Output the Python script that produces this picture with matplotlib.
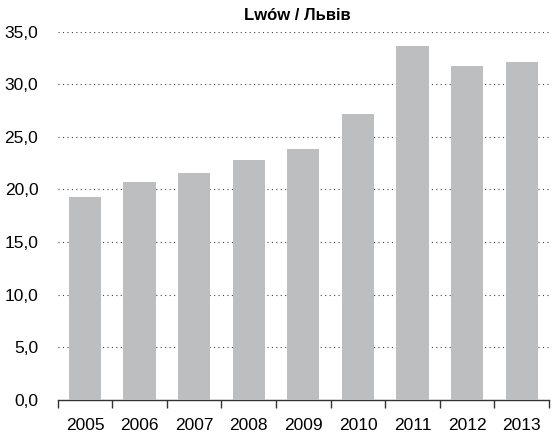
import matplotlib
matplotlib.use("Agg")
import matplotlib.pyplot as plt
import numpy as np

years = ["2005", "2006", "2007", "2008", "2009", "2010", "2011", "2012", "2013"]
values = [19.3, 20.7, 21.6, 22.8, 23.8, 27.2, 33.6, 31.7, 32.1]
yticks = [0, 5, 10, 15, 20, 25, 30, 35]
title = "Lwów / Львів"

plt.rcParams['font.family'] = ['Liberation Sans Narrow', 'Liberation Sans', 'DejaVu Sans']

fig = plt.figure(figsize=(5.56, 4.37), dpi=100)
ax = fig.add_axes([0.1038, 0.0854, 0.8836, 0.8421])

x = np.arange(len(years))
ax.bar(x, values, width=0.59, color="#BDBEC0", zorder=3)

ax.set_xlim(-0.5, len(years) - 0.5)
ax.set_ylim(0, 35)
ax.set_yticks(yticks)
ax.set_yticklabels([f"{v:.1f}".replace(".", ",") for v in yticks], fontsize=12.5)
ax.tick_params(axis='y', length=0, pad=14)
ax.yaxis.grid(True, color="#444444", linestyle=(0, (1, 3)), linewidth=0.8, zorder=0)

ax.set_xticks(np.arange(len(years) + 1) - 0.5)
ax.set_xticklabels([])
ax.tick_params(axis='x', which='major', length=6, width=1, color="#333333", direction='out')
ax.set_xticks(x, minor=True)
ax.set_xticklabels(years, minor=True, fontsize=12.5)
ax.tick_params(axis='x', which='minor', length=0, pad=13)

for s in ["top", "right", "left"]:
    ax.spines[s].set_visible(False)
ax.spines["bottom"].set_color("#333333")
ax.spines["bottom"].set_linewidth(1)

fig.text(0.535, 0.965, title, ha="center", va="center", fontsize=12, fontweight="bold")

fig.savefig("out.png", dpi=100)
